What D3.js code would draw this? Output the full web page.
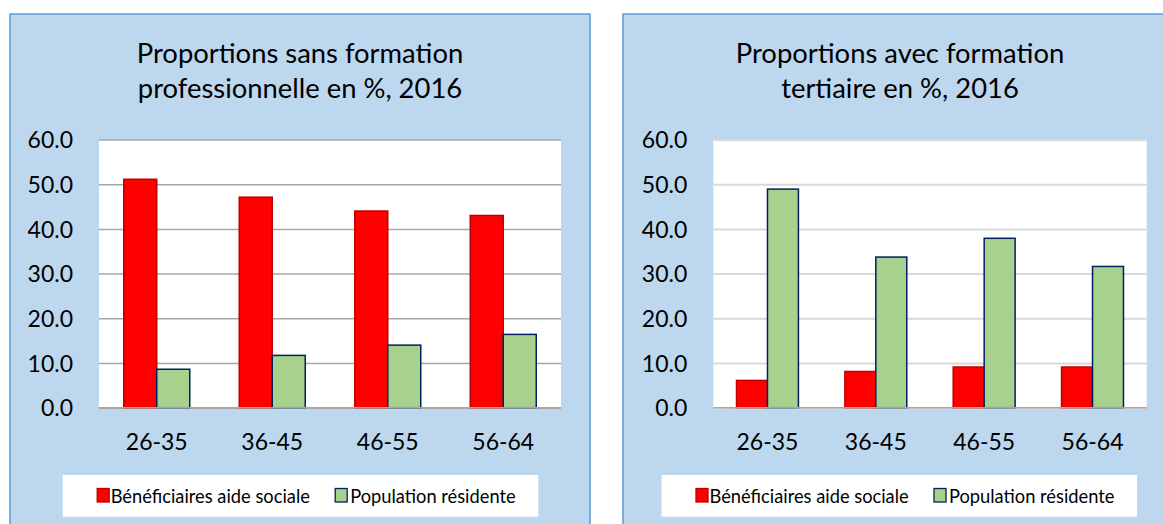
<!DOCTYPE html>
<html>
<head>
<meta charset="utf-8">
<script src="https://cdn.jsdelivr.net/npm/d3@7"></script>
<style>
  html, body { margin: 0; padding: 0; background: #ffffff; }
  svg { display: block; }
  text { font-family: Lato, "Open Sans", sans-serif; fill: #000; }
</style>
</head>
<body>
<svg id="chart" width="1163" height="524"></svg>
<script>
// ---- Data ----
const categories = ["26-35", "36-45", "46-55", "56-64"];
const seriesNames = ["Bénéficiaires aide sociale", "Population résidente"];
const sansFormationAide = [51.1, 47.1, 44.0, 43.0];
const sansFormationPop = [8.6, 11.7, 14.0, 16.4];
const tertiaireAide = [6.1, 8.1, 9.1, 9.1];
const tertiairePop = [48.9, 33.7, 37.9, 31.6];
const yTicks = [0, 10, 20, 30, 40, 50, 60];
const titleLeft = ["Proportions sans formation", "professionnelle en %, 2016"];
const titleRight = ["Proportions avec formation", "tertiaire en %, 2016"];

const svg = d3.select("#chart");

function drawPanel(cfg) {
  const g = svg.append("g");
  // panel background
  g.append("rect")
    .attr("x", cfg.px0).attr("y", cfg.py0)
    .attr("width", cfg.px1 - cfg.px0).attr("height", 540 - cfg.py0)
    .attr("fill", "#BDD7EE").attr("stroke", "#5B9BD5").attr("stroke-width", 1.5);

  const cx = (cfg.px0 + cfg.px1) / 2;
  // title
  g.append("text").attr("x", cx).attr("y", 62.5).attr("text-anchor", "middle")
    .style("font-size", "27.4px").text(cfg.title[0]);
  g.append("text").attr("x", cx).attr("y", 97.5).attr("text-anchor", "middle")
    .style("font-size", "27.4px").text(cfg.title[1]);

  const y = d3.scaleLinear().domain([0, 60]).range([cfg.bottom, cfg.top]);
  const x = d3.scaleBand().domain(categories).range([cfg.left, cfg.right]).padding(0);

  // plot area
  g.append("rect").attr("x", cfg.left).attr("y", cfg.top)
    .attr("width", cfg.right - cfg.left).attr("height", cfg.bottom - cfg.top)
    .attr("fill", "#ffffff");

  // y axis with gridlines
  const yAxis = g.append("g").attr("transform", `translate(${cfg.left},0)`)
    .call(d3.axisLeft(y).tickValues(yTicks).tickFormat(d3.format(".1f"))
      .tickSize(-(cfg.right - cfg.left)).tickPadding(26));
  yAxis.select(".domain").remove();
  yAxis.selectAll(".tick line").attr("stroke", cfg.gridColor).attr("stroke-width", cfg.gridWidth);
  yAxis.selectAll(".tick text").style("font-size", "23px").style("font-family", "Lato")
    .attr("fill", "#000").attr("dy", "0.36em");

  // bars
  const bw = x.bandwidth() / 3.5;
  const series = [
    { vals: cfg.aide, fill: "#FF0000", stroke: "#C00000", off: -bw },
    { vals: cfg.pop, fill: "#A9D18E", stroke: "#002060", off: 0 }
  ];
  series.forEach(s => {
    g.append("g").selectAll("rect").data(categories).join("rect")
      .attr("x", d => x(d) + x.bandwidth() / 2 + s.off)
      .attr("y", (d, i) => y(s.vals[i]))
      .attr("width", bw)
      .attr("height", (d, i) => y(0) - y(s.vals[i]))
      .attr("fill", s.fill).attr("stroke", s.stroke).attr("stroke-width", 1.5);
  });

  // baseline
  g.append("line").attr("x1", cfg.left).attr("x2", cfg.right)
    .attr("y1", y(0)).attr("y2", y(0)).attr("stroke", "#A6A6A6").attr("stroke-width", 1.5);

  // category axis
  const xAxis = g.append("g").attr("transform", `translate(0,${cfg.bottom})`)
    .call(d3.axisBottom(x).tickSize(0).tickPadding(0));
  xAxis.select(".domain").remove();
  xAxis.selectAll(".tick text").style("font-size", "23px").style("font-family", "Lato")
    .attr("fill", "#000").attr("dy", null).attr("y", 42.3);

  // legend
  const lx = cfg.legX, ly = 475;
  g.append("rect").attr("x", lx).attr("y", ly).attr("width", 475.6).attr("height", 41.7)
    .attr("fill", "#ffffff");
  const items = [
    { name: seriesNames[0], fill: "#FF0000", stroke: "#C00000", sx: 34.5, tx: 48 },
    { name: seriesNames[1], fill: "#A9D18E", stroke: "#002060", sx: 272.5, tx: 287.5 }
  ];
  items.forEach(it => {
    g.append("rect").attr("x", lx + it.sx).attr("y", 488.5).attr("width", 12).attr("height", 13.5)
      .attr("fill", it.fill).attr("stroke", it.stroke).attr("stroke-width", 1.3);
    g.append("text").attr("x", lx + it.tx).attr("y", 502.5)
      .style("font-size", "18.3px").text(it.name);
  });
}

drawPanel({
  px0: 10, py0: 14, px1: 590,
  left: 99, right: 561, top: 139.5, bottom: 407.7,
  title: titleLeft, aide: sansFormationAide, pop: sansFormationPop,
  gridColor: "#A6A6A6", gridWidth: 1.5, legX: 62.7
});
drawPanel({
  px0: 623, py0: 14, px1: 1177,
  left: 713.3, right: 1146.7, top: 139.5, bottom: 407.7,
  title: titleRight, aide: tertiaireAide, pop: tertiairePop,
  gridColor: "#D9D9D9", gridWidth: 2, legX: 661.5
});
</script>
</body>
</html>
